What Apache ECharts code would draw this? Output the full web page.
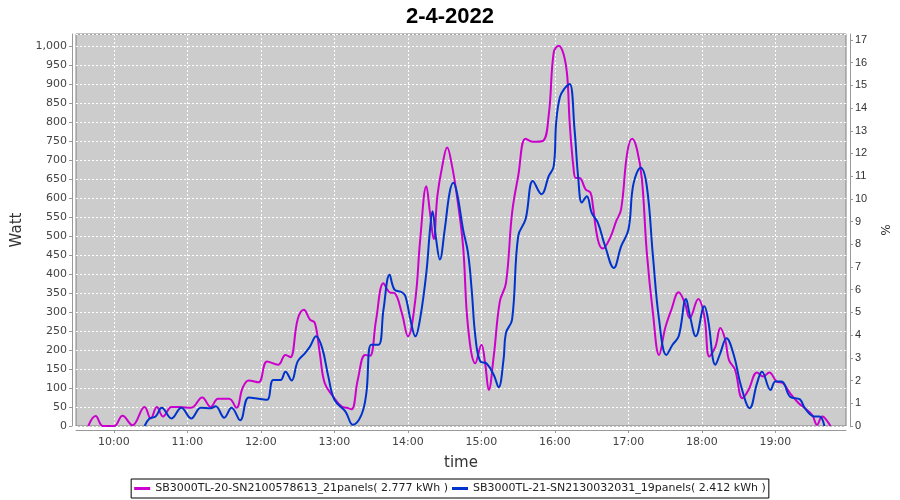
<!DOCTYPE html>
<html>
<head>
<meta charset="utf-8">
<script src="https://cdn.jsdelivr.net/npm/echarts@6/dist/echarts.min.js"></script>
<style>html,body{margin:0;padding:0;background:#fff}#c{width:900px;height:500px}</style>
</head>
<body>
<div id="c"></div>
<script>
const titleText = "2-4-2022";
const seriesNames = [
  "SB3000TL-20-SN2100578613_21panels( 2.777 kWh )",
  "SB3000TL-21-SN2130032031_19panels( 2.412 kWh )"
];
const xTickLabels = ["10:00","11:00","12:00","13:00","14:00","15:00","16:00","17:00","18:00","19:00"];

const magTimes = ["09:39","09:45","09:51","10:00","10:07","10:15","10:25","10:30","10:35","10:40","10:47","10:53","11:03","11:12","11:19","11:25","11:34","11:40","11:45","11:50","11:58","12:05","12:14","12:20","12:24","12:30","12:35","12:40","12:44","12:48","12:52","12:59","13:06","13:10","13:14","13:19","13:25","13:29","13:34","13:40","13:45","13:49","13:55","14:00","14:06","14:10","14:15","14:18","14:21","14:24","14:28","14:32","14:36","14:40","14:45","14:49","14:55","15:00","15:03","15:06","15:10","15:15","15:20","15:25","15:30","15:36","15:42","15:50","15:55","15:59","16:03","16:07","16:10","16:12","16:15","16:17","16:20","16:25","16:29","16:31","16:35","16:39","16:45","16:50","16:54","16:59","17:03","17:07","17:11","17:15","17:20","17:25","17:30","17:35","17:41","17:46","17:50","17:57","18:02","18:06","18:11","18:15","18:19","18:22","18:27","18:33","18:38","18:45","18:50","18:55","19:01","19:06","19:12","19:19","19:24","19:30","19:34","19:38","19:40","19:45"];
const magWatt = [0,26,0,0,27,2,50,20,50,25,50,50,48,75,50,72,72,48,100,120,115,170,161,187,181,281,306,280,271,192,113,77,51,48,44,121,187,185,280,376,352,350,297,236,332,491,631,561,492,605,684,733,684,605,473,262,165,214,165,95,183,328,376,561,658,756,748,750,821,983,1001,979,922,799,684,653,653,623,614,579,491,467,495,539,570,719,756,728,649,456,297,187,258,306,352,324,284,334,288,183,209,258,227,174,148,73,95,141,130,141,117,113,86,60,47,29,3,25,22,0];

const bluTimes = ["10:25","10:29","10:34","10:39","10:47","10:55","11:03","11:11","11:19","11:23","11:30","11:36","11:43","11:50","11:58","12:05","12:10","12:16","12:20","12:25","12:30","12:36","12:40","12:45","12:50","12:55","13:00","13:09","13:15","13:22","13:26","13:30","13:36","13:40","13:45","13:49","13:55","13:58","14:02","14:06","14:10","14:15","14:18","14:20","14:23","14:26","14:30","14:34","14:37","14:40","14:45","14:49","14:52","14:55","14:59","15:04","15:10","15:14","15:18","15:20","15:25","15:30","15:36","15:42","15:49","15:55","15:59","16:01","16:04","16:08","16:12","16:16","16:19","16:22","16:26","16:30","16:35","16:41","16:48","16:54","17:00","17:04","17:10","17:15","17:20","17:25","17:31","17:36","17:41","17:47","17:50","17:55","18:02","18:05","18:11","18:15","18:20","18:26","18:32","18:39","18:45","18:49","18:56","19:00","19:05","19:12","19:20","19:24","19:32","19:36","19:40"];
const bluWatt = [0,20,25,48,20,48,20,48,47,52,22,48,15,75,72,69,121,121,143,120,170,192,209,236,205,130,69,38,3,29,86,214,214,306,398,359,352,341,280,236,284,403,517,565,491,438,517,614,640,614,517,456,359,236,170,165,135,102,174,245,280,500,544,645,610,658,684,799,865,889,900,780,653,588,605,561,535,473,416,473,517,636,680,631,447,280,187,214,236,334,293,236,315,280,161,192,231,187,104,47,113,143,95,117,117,77,70,47,25,25,0];

function toMin(t){ const p = t.split(':').map(Number); return p[0]*60 + p[1]; }
function pad(n){ return (n<10?'0':'') + n; }
const magData = magTimes.map((t,i)=>[toMin(t), magWatt[i]]);
const bluData = bluTimes.map((t,i)=>[toMin(t), bluWatt[i]]);
const xTicks = xTickLabels.map(toMin);

const chart = echarts.init(document.getElementById('c'), null, {renderer:'canvas'});
const labelFont = {fontFamily:'DejaVu Sans', fontSize:11, color:'#444'};
chart.setOption({
  animation:false,
  backgroundColor:'#ffffff',
  title:{text:titleText, left:'center', top:1, textStyle:{fontFamily:'Liberation Sans', fontWeight:'bold', fontSize:22, color:'#000'}},
  grid:{left:76, right:54, top:34, bottom:74, show:true, backgroundColor:'#cccccc', borderColor:'#808080', borderWidth:1},
  legend:{
    bottom:2, left:'center', orient:'horizontal',
    data:seriesNames,
    borderColor:'#000', borderWidth:1, padding:[4,3,4,3], itemGap:4,
    itemWidth:16, itemHeight:3, icon:'rect',
    textStyle:{fontFamily:'DejaVu Sans', fontSize:11, color:'#222'}
  },
  xAxis:{
    type:'value', min:569, max:1197.6, offset:4,
    name:'time', nameLocation:'middle', nameGap:26,
    nameTextStyle:{fontFamily:'DejaVu Sans', fontSize:15, color:'#333'},
    axisLine:{show:true, onZero:false, lineStyle:{color:'#999'}},
    axisTick:{show:true, length:3, lineStyle:{color:'#999'}, customValues:xTicks},
    axisLabel:Object.assign({customValues:xTicks, margin:7, formatter:v=>pad(Math.floor(v/60))+':'+pad(Math.round(v%60))}, labelFont),
    splitLine:{show:true, lineStyle:{color:'#ffffff', type:[2,2], width:1}}
  },
  yAxis:[{
    type:'value', min:0, max:1031.7, interval:50, offset:4, position:'left',
    name:'Watt', nameLocation:'middle', nameGap:44, nameRotate:90,
    nameTextStyle:{fontFamily:'DejaVu Sans', fontSize:15, color:'#333'},
    axisLine:{show:true, lineStyle:{color:'#999'}},
    axisTick:{show:true, length:3, lineStyle:{color:'#999'}},
    axisLabel:Object.assign({showMaxLabel:false, margin:5, formatter:v=>v.toLocaleString('en-US')}, labelFont),
    splitLine:{show:true, lineStyle:{color:'#ffffff', type:[2,2], width:1}}
  },{
    type:'value', min:0, max:17.26, interval:1, offset:4, position:'right',
    name:'%', nameLocation:'middle', nameGap:26, nameRotate:-90,
    nameTextStyle:{fontFamily:'DejaVu Sans', fontSize:12, color:'#333'},
    axisLine:{show:true, lineStyle:{color:'#999'}},
    axisTick:{show:true, length:3, lineStyle:{color:'#999'}},
    axisLabel:{showMaxLabel:false, margin:5, fontFamily:'Liberation Sans', fontSize:11, color:'#333'},
    splitLine:{show:false}
  }],
  series:[
    {name:seriesNames[0], type:'line', data:magData, smooth:0.4, showSymbol:false, clip:true,
     lineStyle:{color:'#cc00cc', width:2}, itemStyle:{color:'#cc00cc'}},
    {name:seriesNames[1], type:'line', data:bluData, smooth:0.4, showSymbol:false, clip:true,
     lineStyle:{color:'#0033cc', width:2}, itemStyle:{color:'#0033cc'}}
  ]
});
</script>
</body>
</html>
